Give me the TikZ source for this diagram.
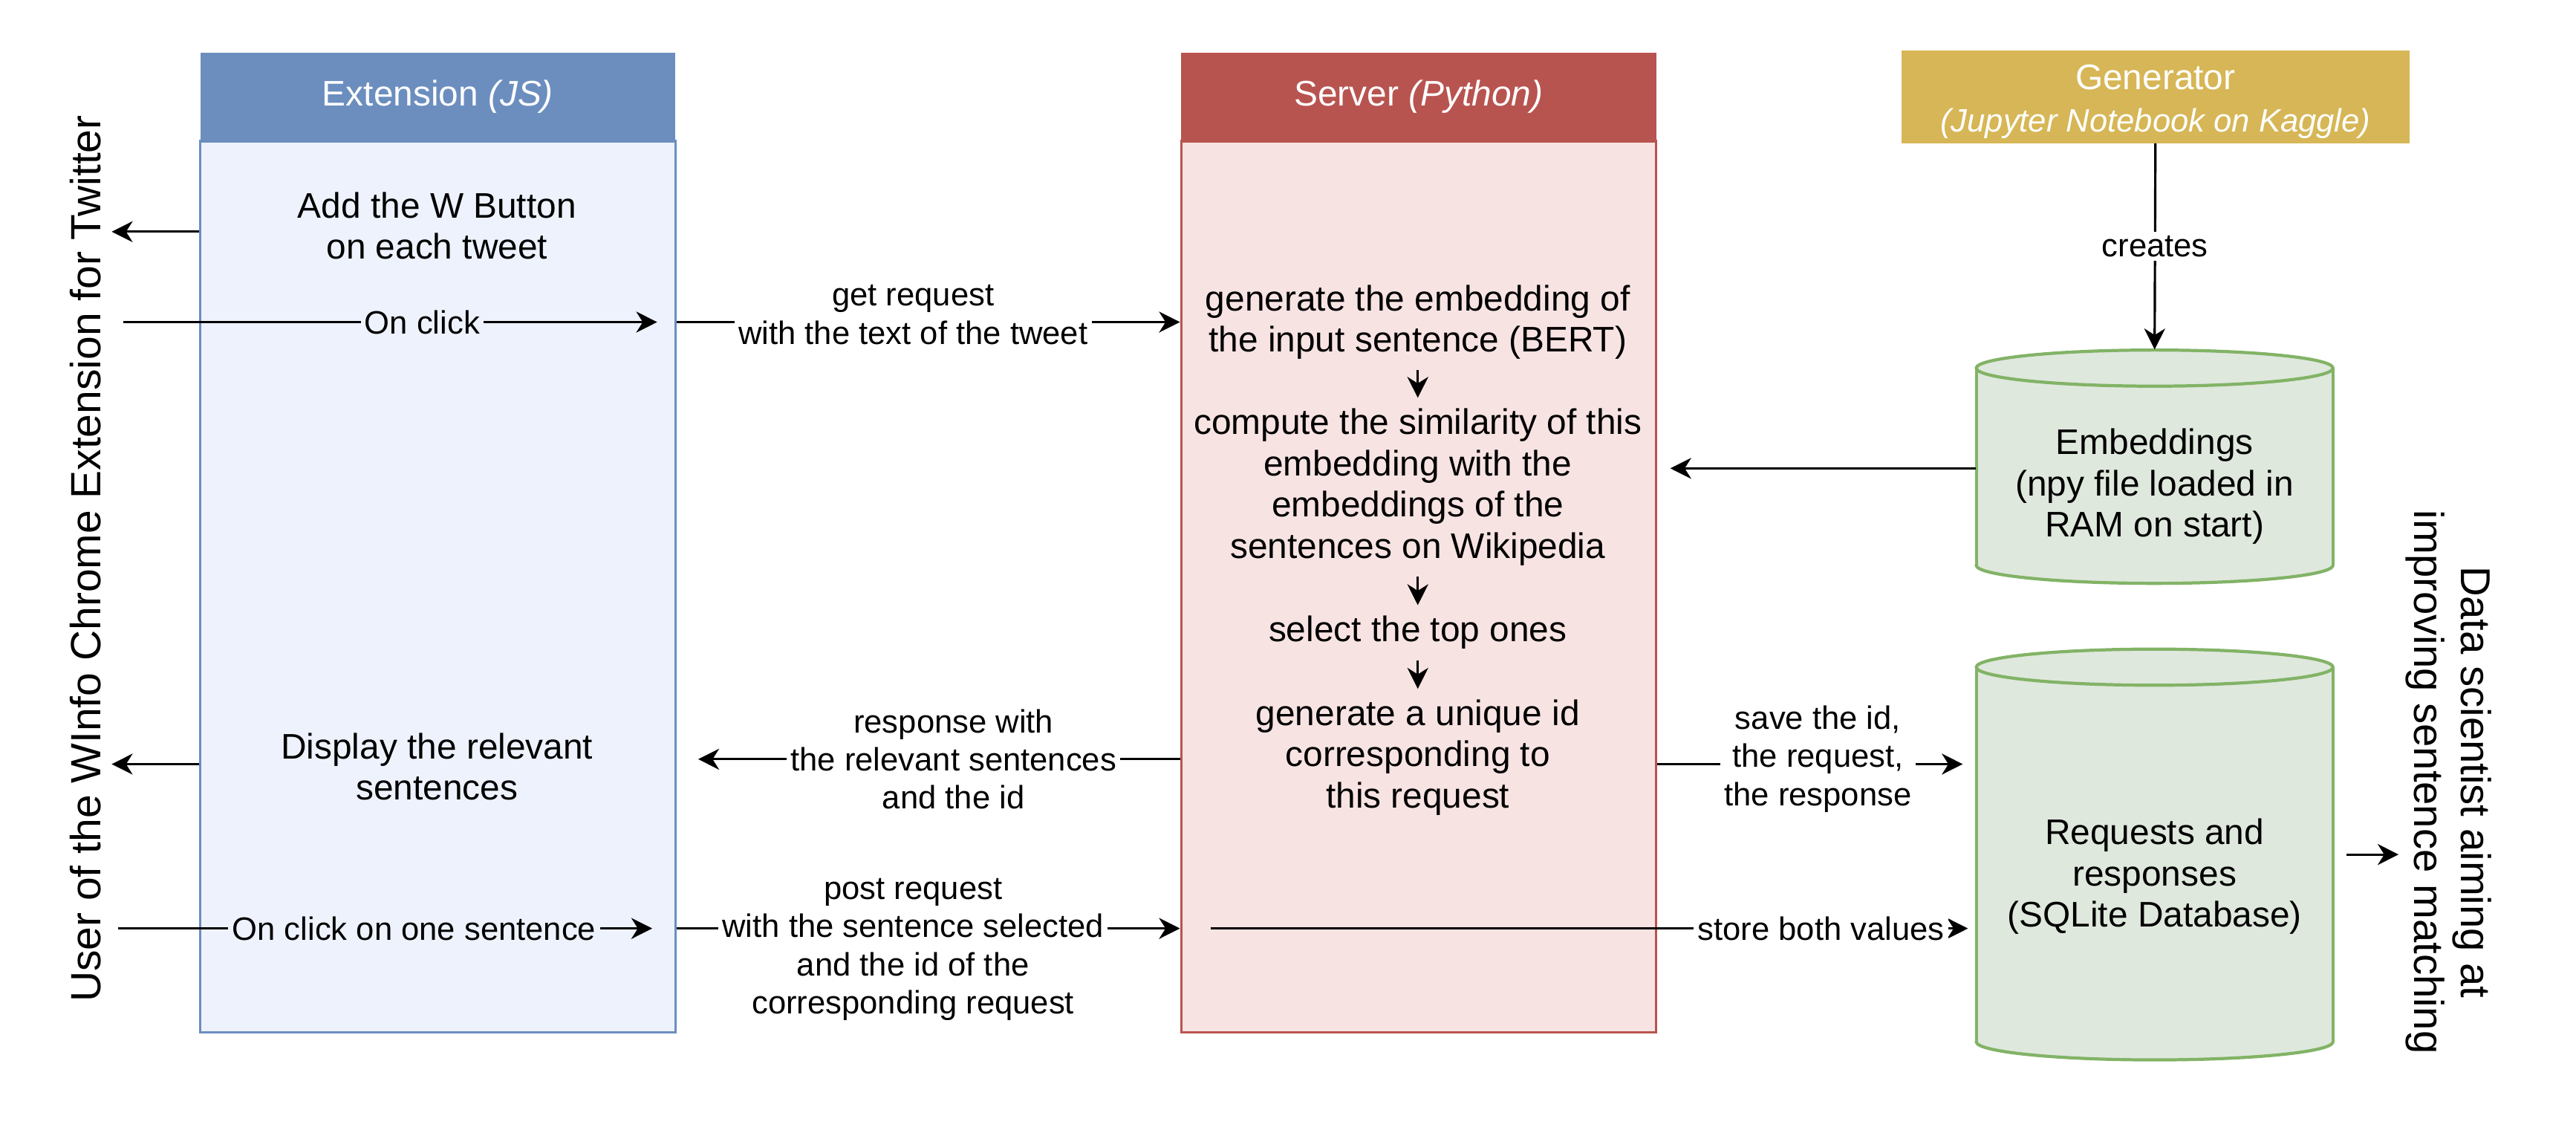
\documentclass[tikz,border=0pt]{standalone}
\usepackage{fontspec}
\setmainfont{Liberation Sans}
\usetikzlibrary{arrows.meta}
\definecolor{extH}{HTML}{6C8EBF}
\definecolor{extB}{HTML}{EDF2FC}
\definecolor{srvH}{HTML}{B85450}
\definecolor{srvB}{HTML}{F8E3E3}
\definecolor{genH}{HTML}{D6B656}
\definecolor{cylF}{HTML}{DFE8DD}
\definecolor{cylD}{HTML}{82B366}
\begin{document}
\begin{tikzpicture}[x=0.022117cm, y=-0.022117cm,
  arr/.style={line width=0.9pt, -{Stealth[length=8pt, width=8pt, inset=2.5pt]}},
  hdr/.style={rectangle, inner sep=0pt, text=white, align=center, font=\fontsize{13.6}{16.3}\selectfont},
  lane/.style={rectangle, inner sep=0pt, line width=0.9pt},
  txt/.style={align=center, inner sep=4pt, font=\fontsize{13.6}{15.8}\selectfont},
  lbl/.style={align=center, inner sep=1.5pt, fill=white, font=\fontsize{12.4}{14.6}\selectfont},
  cylside/.style={line width=1.2pt, draw=cylD},
  vert/.style={align=center, font=\fontsize{16}{18}\selectfont}]
\useasboundingbox (0,0) rectangle (1568,691);

% Extension lane
\node[lane, draw=extH, fill=extB, minimum width=6.392cm, minimum height=11.987cm] (extb) at (266.5,357) {};
\node[hdr, fill=extH, minimum width=6.392cm, minimum height=1.194cm] (exth) at (266.5,59) {Extension \textit{(JS)}};
\node[txt] (add) at (266,137.5) {Add the W Button\\on each tweet};
\node[txt] (disp) at (266,466.5) {Display the relevant\\sentences};

% Server lane
\node[lane, draw=srvH, fill=srvB, minimum width=6.392cm, minimum height=11.987cm] (srvb) at (863.5,357) {};
\node[hdr, fill=srvH, minimum width=6.392cm, minimum height=1.194cm] (srvh) at (863.5,59) {Server \textit{(Python)}};
\node[txt] (s1) at (863,196) {generate the embedding of\\the input sentence (BERT)};
\node[txt] (s2) at (863,296.5) {compute the similarity of this\\embedding with the\\embeddings of the\\sentences on Wikipedia};
\node[txt] (s3) at (863,385) {select the top ones};
\node[txt] (s4) at (863,461) {generate a unique id\\corresponding to\\this request};
\draw[arr] (s1.south) -- (s2.north);
\draw[arr] (s2.south) -- (s3.north);
\draw[arr] (s3.south) -- (s4.north);

% Generator
\node[hdr, fill=genH, minimum width=6.834cm, minimum height=1.24cm] (gen) at (1312,59) {};
\node[hdr] (gent) at (1312,62) {Generator\\\fontsize{12.4}{14}\selectfont\textit{(Jupyter Notebook on Kaggle)}};

% Embeddings cylinder
\filldraw[cylside, fill=cylF] (1311.5,344) ellipse[x radius=2.4cm, y radius=0.243cm];
\fill[cylF] (1203,224) rectangle (1420,344);
\draw[cylside] (1203,224) -- (1203,344) (1420,224) -- (1420,344);
\filldraw[cylside, fill=cylF] (1311.5,224) ellipse[x radius=2.4cm, y radius=0.243cm];
\node[inner sep=0pt, minimum width=4.799cm, minimum height=3.141cm] (emb) at (1311.5,284) {};
\node[txt] (embt) at (1311.5,296) {Embeddings\\(npy file loaded in\\RAM on start)};

% Requests cylinder
\filldraw[cylside, fill=cylF] (1311.5,634) ellipse[x radius=2.4cm, y radius=0.243cm];
\fill[cylF] (1203,406) rectangle (1420,634);
\draw[cylside] (1203,406) -- (1203,634) (1420,406) -- (1420,634);
\filldraw[cylside, fill=cylF] (1311.5,406) ellipse[x radius=2.4cm, y radius=0.243cm];
\node[inner sep=0pt, minimum width=4.799cm, minimum height=5.529cm] (req) at (1311.5,520) {};
\node[txt] (reqt) at (1311.5,533.5) {Requests and\\responses\\(SQLite Database)};

% Actors
\node[vert, rotate=90, font=\fontsize{16.2}{19}\selectfont] (user) at (52,340) {User of the WInfo Chrome Extension for Twitter};
\node[vert, rotate=-90] (ds) at (1490.5,476) {Data scientist aiming at\\improving sentence matching};

% Coordinates
\coordinate (u1) at (68,141);
\coordinate (u2) at (68,465);
\coordinate (c1s) at (75,196);
\coordinate (c1e) at (400,196);
\coordinate (c2s) at (72,565);
\coordinate (c2e) at (397,565);
\coordinate (resp) at (425,462);
\coordinate (st) at (737,565);
\coordinate (dsr) at (1460,520);

% Connectors
\draw[arr] (extb.west |- u1) -- (u1);
\draw[arr] (extb.west |- u2) -- (u2);
\draw[arr] (c1s) -- node[lbl, fill=extB, pos=0.56] {On click} (c1e);
\draw[arr] (c2s) -- node[lbl, fill=extB, pos=0.554] {On click on one sentence} (c2e);
\draw[arr] (extb.east |- c1e) -- node[lbl, pos=0.47, yshift=2.8pt] {get request\\with the text of the tweet} (srvb.west |- c1e);
\draw[arr] (srvb.west |- resp) -- node[lbl, pos=0.47] {response with\\the relevant sentences\\and the id} (resp);
\draw[arr] (extb.east |- c2e) -- node[lbl, pos=0.47, yshift=-8pt] {post request\\with the sentence selected\\and the id of the\\corresponding request} (srvb.west |- c2e);
\draw[arr] (srvb.east |- 0,465) -- node[lbl, pos=0.526, yshift=2pt] {save the id,\\the request,\\the response} ([xshift=-5pt]req.west |- 0,465);
\draw[arr] (st) -- node[lbl, pos=0.806] {store both values} ([xshift=-3pt]req.west |- st);
\draw[arr] (emb.west |- 0,285) -- ([xshift=5pt]srvb.east |- 0,285);
\draw[arr] (gen.south) -- node[lbl] {creates} (emb.north);
\draw[arr] ([xshift=5pt]req.east |- dsr) -- (dsr);
\end{tikzpicture}
\end{document}
